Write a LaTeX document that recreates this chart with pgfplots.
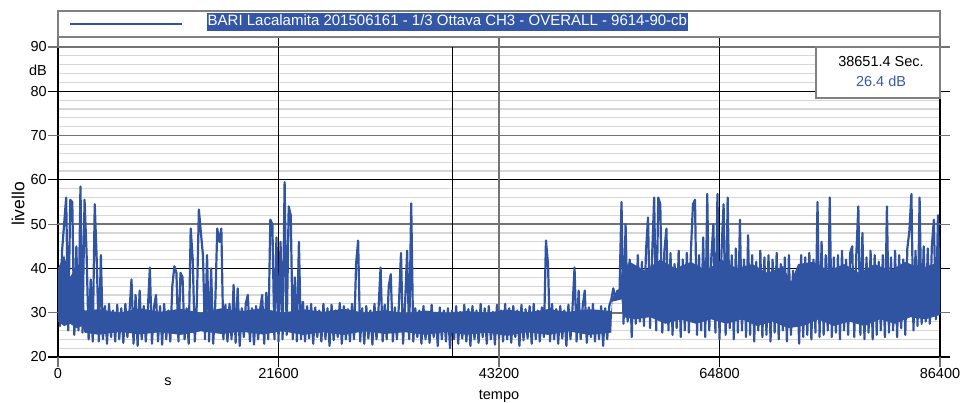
\documentclass[border=0pt]{standalone}
\usepackage{fontspec}
\setmainfont{Liberation Sans}
\usepackage{pgfplots}
\usepackage{pgfplotstable}
\pgfplotsset{compat=1.18}
\definecolor{plotblue}{RGB}{48,83,162}
\definecolor{hlblue}{RGB}{51,86,166}
\definecolor{curblue}{RGB}{56,90,170}
\definecolor{gridgray}{RGB}{115,115,115}
\definecolor{minorgray}{RGB}{214,214,214}
\definecolor{boxgray}{RGB}{128,128,128}

% level (dB) sampled every 200 s from 0 to 86400 s
\pgfplotstableread[header=false,row sep=\\]{
38\\27\\44\\50\\56\\26\\55.5\\55\\25\\45\\
26\\58.5\\25.5\\55.5\\43.5\\24\\37.5\\23.5\\54.5\\41.5\\
23.5\\43\\24\\31.5\\23\\32\\24.5\\30.5\\23.5\\31.8\\
24\\31\\23.2\\32\\24.5\\30.2\\37.5\\23\\34\\22.5\\
35\\24\\31.5\\23.5\\30.8\\40.2\\23\\31.2\\34\\23.5\\
31.5\\22.8\\32\\24\\30.5\\23.5\\36\\40.5\\39\\23.5\\
39\\38\\24\\31\\23\\49\\42\\23.5\\32\\53.3\\
48\\43\\24\\43\\23.5\\40\\23\\31.5\\49\\46\\
49\\24\\31.8\\23.5\\32\\24\\36.3\\23.2\\35.5\\22.5\\
31\\24.5\\32.2\\34\\23.5\\31\\22.8\\31.5\\24\\30.8\\
34\\23\\34.5\\24\\51\\50\\24\\47\\23.5\\46\\
24\\59.5\\25\\54\\52\\24\\38\\23.5\\46\\24\\
32.5\\23.5\\31.5\\24.2\\32\\23\\31.2\\24.5\\30.5\\23.5\\
32\\24\\31\\22.5\\31.8\\23.8\\30.5\\24.5\\32.2\\23\\
31.5\\24\\30.8\\23.5\\32\\24\\41\\46.3\\23.5\\31\\
23\\31.5\\24.2\\30.5\\22.8\\32\\24\\31\\40.2\\23.5\\
31.8\\24\\36\\38.7\\23.5\\31.2\\24\\32\\43.5\\23\\
32\\44\\24\\54.7\\23.5\\31\\24.5\\30.5\\23\\31.5\\
24\\30.2\\23.2\\31.8\\24.5\\30\\22.5\\31.2\\24\\30.5\\
23.5\\31\\22\\30.5\\24\\31.5\\23\\30.2\\24.2\\31.8\\
23.5\\30.8\\22.5\\31.5\\24\\30.5\\23.2\\32\\24.5\\31\\
23\\31.5\\24\\30.2\\22.8\\31.8\\24.3\\30.5\\23.5\\32\\
24\\31\\23.2\\31.5\\24.5\\30.5\\22.5\\31.8\\23.8\\30.8\\
24.2\\31.5\\23\\32\\24\\30.5\\23.5\\31.2\\24.5\\46.3\\
41\\23.5\\32\\24\\30.8\\23\\31.5\\24.2\\30.5\\22.5\\
31.8\\24\\31\\40.2\\23.5\\35\\24\\31.5\\35\\23.2\\
31.2\\24.5\\32\\23.5\\30.5\\24\\31.5\\22.5\\31\\24\\
31.5\\33\\35.5\\33.2\\35\\34\\55\\27.5\\50\\28\\
42\\24.5\\40.5\\27.5\\43\\28\\41.5\\27\\44\\51.5\\
26.5\\43\\56\\26\\56\\54.5\\25.5\\44\\49\\26\\
43.5\\25\\41\\26.5\\44\\24.5\\42\\26\\43.5\\25.5\\
44\\54.5\\55.5\\25\\43\\26\\47\\24.5\\56.8\\26\\
42.5\\50\\25.5\\56.8\\24\\44\\54.5\\25\\56\\26.5\\
43\\24\\44.5\\25.5\\51\\26\\42\\24.5\\47.5\\25\\
43\\23.5\\41.5\\26\\44\\24.5\\42.5\\25\\43\\23.5\\
42\\25.5\\43.5\\24\\41\\26\\42.5\\23.5\\43\\25\\
39.5\\32.5\\38\\23\\43\\24.5\\42.5\\25\\43.5\\24\\
42\\25.5\\55\\24.5\\46\\25\\43\\26\\56\\24.5\\
42.5\\25.5\\43\\24\\44\\26\\42\\25\\43.5\\45\\
24.5\\43\\54\\25\\48\\24\\42.5\\25.5\\44\\24\\
43\\25\\41.5\\26\\43\\24.5\\54\\25.5\\42.5\\26\\
44\\24.5\\43\\26.5\\42\\25\\44.5\\48.5\\56.8\\26\\
44\\27\\56\\27.5\\45\\28\\44.5\\27.5\\45\\51\\
28.5\\52\\30\\
}\levels

% dense core of the level band (outline, clockwise)
\pgfplotstableread{
x y
0 40
600 43
1200 38
1800 41
2400 38
2600 30.5
4000 30.8
6000 30
8000 31
10000 30.2
12000 30.9
14000 30
16000 31
18000 30.4
20000 31
22000 30
24000 30.8
26000 30.2
28000 30.9
30000 30
32000 30.6
34000 29.8
36000 30.5
38000 29.8
40000 30.4
42000 30
44000 30.7
46000 30.1
48000 30.8
50000 30.2
52000 30.8
54200 30.4
54300 33.5
55000 35
55200 39
56000 41.5
57500 39.5
59000 42
60500 40
62000 41.5
63500 39.5
65000 42
66500 40
68000 41
69500 39
71000 40.5
71800 37
72500 41
74000 41.5
75500 39.5
77000 41
78500 39
80000 41
81500 39.5
83000 41.5
84500 40
86400 41.5
86400 29.5
85000 28.5
83500 29
82000 27.5
80500 28.5
79000 27
77500 28
76000 27
74500 28.5
73000 27
71500 26.5
70000 28
68500 27
67000 28.5
65500 27.5
64000 28.5
62500 27.5
61000 28.5
59500 27.5
58000 29
56500 28.5
55400 29
55200 33
54300 32.5
54200 25.5
52000 25
50000 25.8
48000 25
46000 25.6
44000 24.8
42000 25.5
40000 25
38000 25.7
36000 25
34000 25.6
32000 25.2
30000 25.8
28000 25
26000 25.6
24000 25
22000 25.8
20000 25.1
18000 25.7
16000 25.2
14000 25.8
12000 25
10000 25.6
8000 25.1
6000 25.7
4000 25
2600 25.5
2400 27
1800 26.5
1200 27.5
600 27
0 28
}\core

\begin{document}
\begin{tikzpicture}[font=\fontsize{14.5bp}{17bp}\selectfont]
\useasboundingbox (-58bp,-46bp) rectangle (906bp,357bp);
\begin{axis}[
  at={(0,0)}, anchor=south west,
  scale only axis, width=882bp, height=310bp,
  xmin=0, xmax=86400, ymin=20, ymax=90,
  scaled x ticks=false,
  xtick={21600,64800}, xticklabels={21600,64800},
  extra x ticks={0,43200,86400}, extra x tick labels={0,43200,86400},
  ytick={20,40,60,80}, yticklabels={20,40,60,80},
  extra y ticks={30,50,70,90}, extra y tick labels={30,50,70,90},
  minor ytick={22,24,...,88},
  ymajorgrids, yminorgrids,
  major grid style={black, line width=1.1bp},
  minor grid style={minorgray, line width=1.1bp},
  extra x tick style={major tick style={gridgray, line width=1.1bp}},
  extra y tick style={grid=major, major grid style={gridgray, line width=1.6bp}, major tick style={gridgray, line width=1.1bp}},
  tick align=outside,
  major tick length=10bp, minor tick length=0pt,
  major tick style={black, line width=1.1bp},
  axis line style={black, line width=1.5bp},
  /pgf/number format/assume math mode=true,
  tick label style={font=\fontsize{14.5bp}{17bp}\selectfont},
  xticklabel style={inner sep=1bp},
  yticklabel style={inner sep=1bp},
]
% vertical reference lines (time grid and cursor)
\addplot[black, line width=1.1bp] coordinates {(21600,20) (21600,90)};
\addplot[black, line width=1.1bp] coordinates {(64800,20) (64800,90)};
\addplot[gridgray, line width=1.1bp] coordinates {(43200,20) (43200,90)};
\addplot[black, line width=1.1bp] coordinates {(38651.4,20) (38651.4,90)};
% dense core of the level band
\addplot[fill=plotblue, draw=none] table[x=x, y=y] {\core} -- cycle;
% level trace
\addplot[plotblue, line width=2.2bp, line join=round] table[x expr=\coordindex*200, y index=0] {\levels};
\end{axis}
% legend
\draw[boxgray, line width=1.2bp, fill=white] (0,320bp) rectangle (882bp,346bp);
\draw[plotblue, line width=1.6bp] (12bp,333bp) -- (124bp,333bp);
\node[anchor=west, fill=hlblue, text=white, inner xsep=0.5bp, inner ysep=0pt, text height=13bp, text depth=5bp, font=\fontsize{15bp}{18bp}\selectfont] at (149bp,335bp) {BARI Lacalamita 201506161 - 1/3 Ottava CH3 - OVERALL - 9614-90-cb};
% cursor readout
\draw[boxgray, line width=1.2bp, fill=white] (758bp,259bp) rectangle (882bp,310bp);
\node[anchor=base, font=\fontsize{14.5bp}{17bp}\selectfont] at (823bp,290bp) {38651.4 Sec.};
\node[anchor=base, text=curblue, font=\fontsize{14.5bp}{17bp}\selectfont] at (823bp,270bp) {26.4 dB};
% axis labels
\node[rotate=90, font=\fontsize{17.5bp}{20bp}\selectfont] at (-40bp,153bp) {livello};
\node[anchor=base, font=\fontsize{14.5bp}{17bp}\selectfont] at (441bp,-42bp) {tempo};
\node[anchor=base] at (110bp,-28.5bp) {s};
\node[anchor=base east, inner sep=0pt] at (-11bp,281bp) {dB};
\end{tikzpicture}
\end{document}
